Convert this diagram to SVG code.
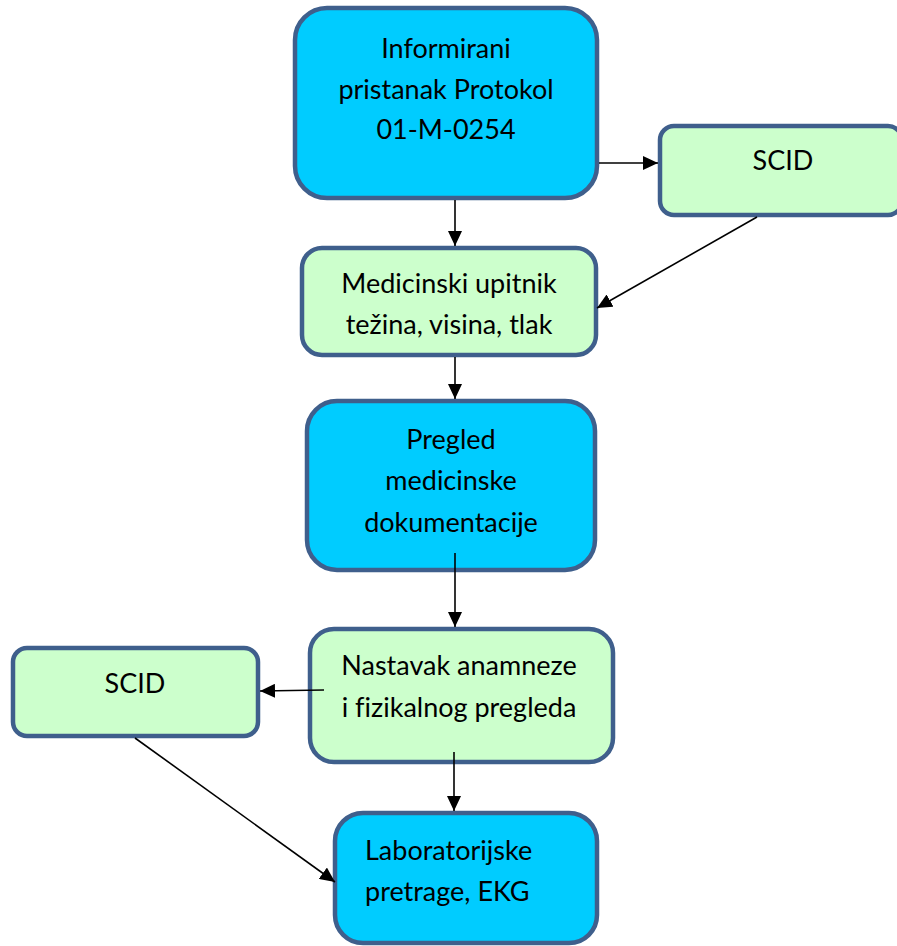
<svg xmlns="http://www.w3.org/2000/svg" width="897" height="946" viewBox="0 0 897 946">
<style>
.box{stroke:#3F5F8C;stroke-width:4.5}
.blue{fill:#00CCFF}
.green{fill:#CCFFCC}
.t{font-family:Lato,"Liberation Sans",sans-serif;font-size:27px;fill:#000;font-variant-ligatures:none}
.c{text-anchor:middle}
.edge{stroke:#000;stroke-width:1.6;fill:none;marker-end:url(#ah)}
</style>
<defs>
<marker id="ah" markerUnits="userSpaceOnUse" markerWidth="16" markerHeight="14" refX="15" refY="7" orient="auto" viewBox="0 0 16 14">
<path d="M0,0 L15,7 L0,14 z" fill="#000"/>
</marker>
</defs>
<rect width="897" height="946" fill="#fff"/>
<g id="n1">
<rect class="box blue" x="295" y="8" width="302" height="190" rx="32"/>
<text class="t c" x="446" y="58">Informirani</text>
<text class="t c" x="446" y="99">pristanak Protokol</text>
<text class="t c" x="446" y="139">01-M-0254</text>
</g>
<g id="n2">
<rect class="box green" x="660" y="126" width="242" height="89" rx="14"/>
<text class="t c" x="783" y="170">SCID</text>
</g>
<g id="n3">
<rect class="box green" x="302" y="248" width="294" height="107" rx="20"/>
<text class="t c" x="449" y="293">Medicinski upitnik</text>
<text class="t c" x="449" y="334">težina, visina, tlak</text>
</g>
<g id="n4">
<rect class="box blue" x="307" y="401" width="288" height="169" rx="30"/>
<text class="t c" x="451" y="449">Pregled</text>
<text class="t c" x="451" y="490">medicinske</text>
<text class="t c" x="451" y="532">dokumentacije</text>
</g>
<g id="n5">
<rect class="box green" x="310" y="629" width="303" height="133" rx="24"/>
<text class="t c" x="459" y="675">Nastavak anamneze</text>
<text class="t c" x="459" y="717">i fizikalnog pregleda</text>
</g>
<g id="n6">
<rect class="box green" x="13" y="648" width="245" height="88" rx="14"/>
<text class="t c" x="135" y="693">SCID</text>
</g>
<g id="n7">
<rect class="box blue" x="335" y="813" width="262" height="130" rx="28"/>
<text class="t" x="365" y="860">Laboratorijske</text>
<text class="t" x="365" y="901">pretrage, EKG</text>
</g>
<g id="connectors">
<line class="edge" x1="599" y1="163" x2="658" y2="163"/>
<line class="edge" x1="757" y1="217" x2="597" y2="308"/>
<line class="edge" x1="455" y1="200" x2="455" y2="246"/>
<line class="edge" x1="455" y1="357" x2="455" y2="399"/>
<line class="edge" x1="455" y1="553" x2="455" y2="627"/>
<line class="edge" x1="324" y1="690" x2="260" y2="691"/>
<line class="edge" x1="135" y1="738" x2="335" y2="882"/>
<line class="edge" x1="454" y1="752" x2="454" y2="811"/>
</g>
</svg>
